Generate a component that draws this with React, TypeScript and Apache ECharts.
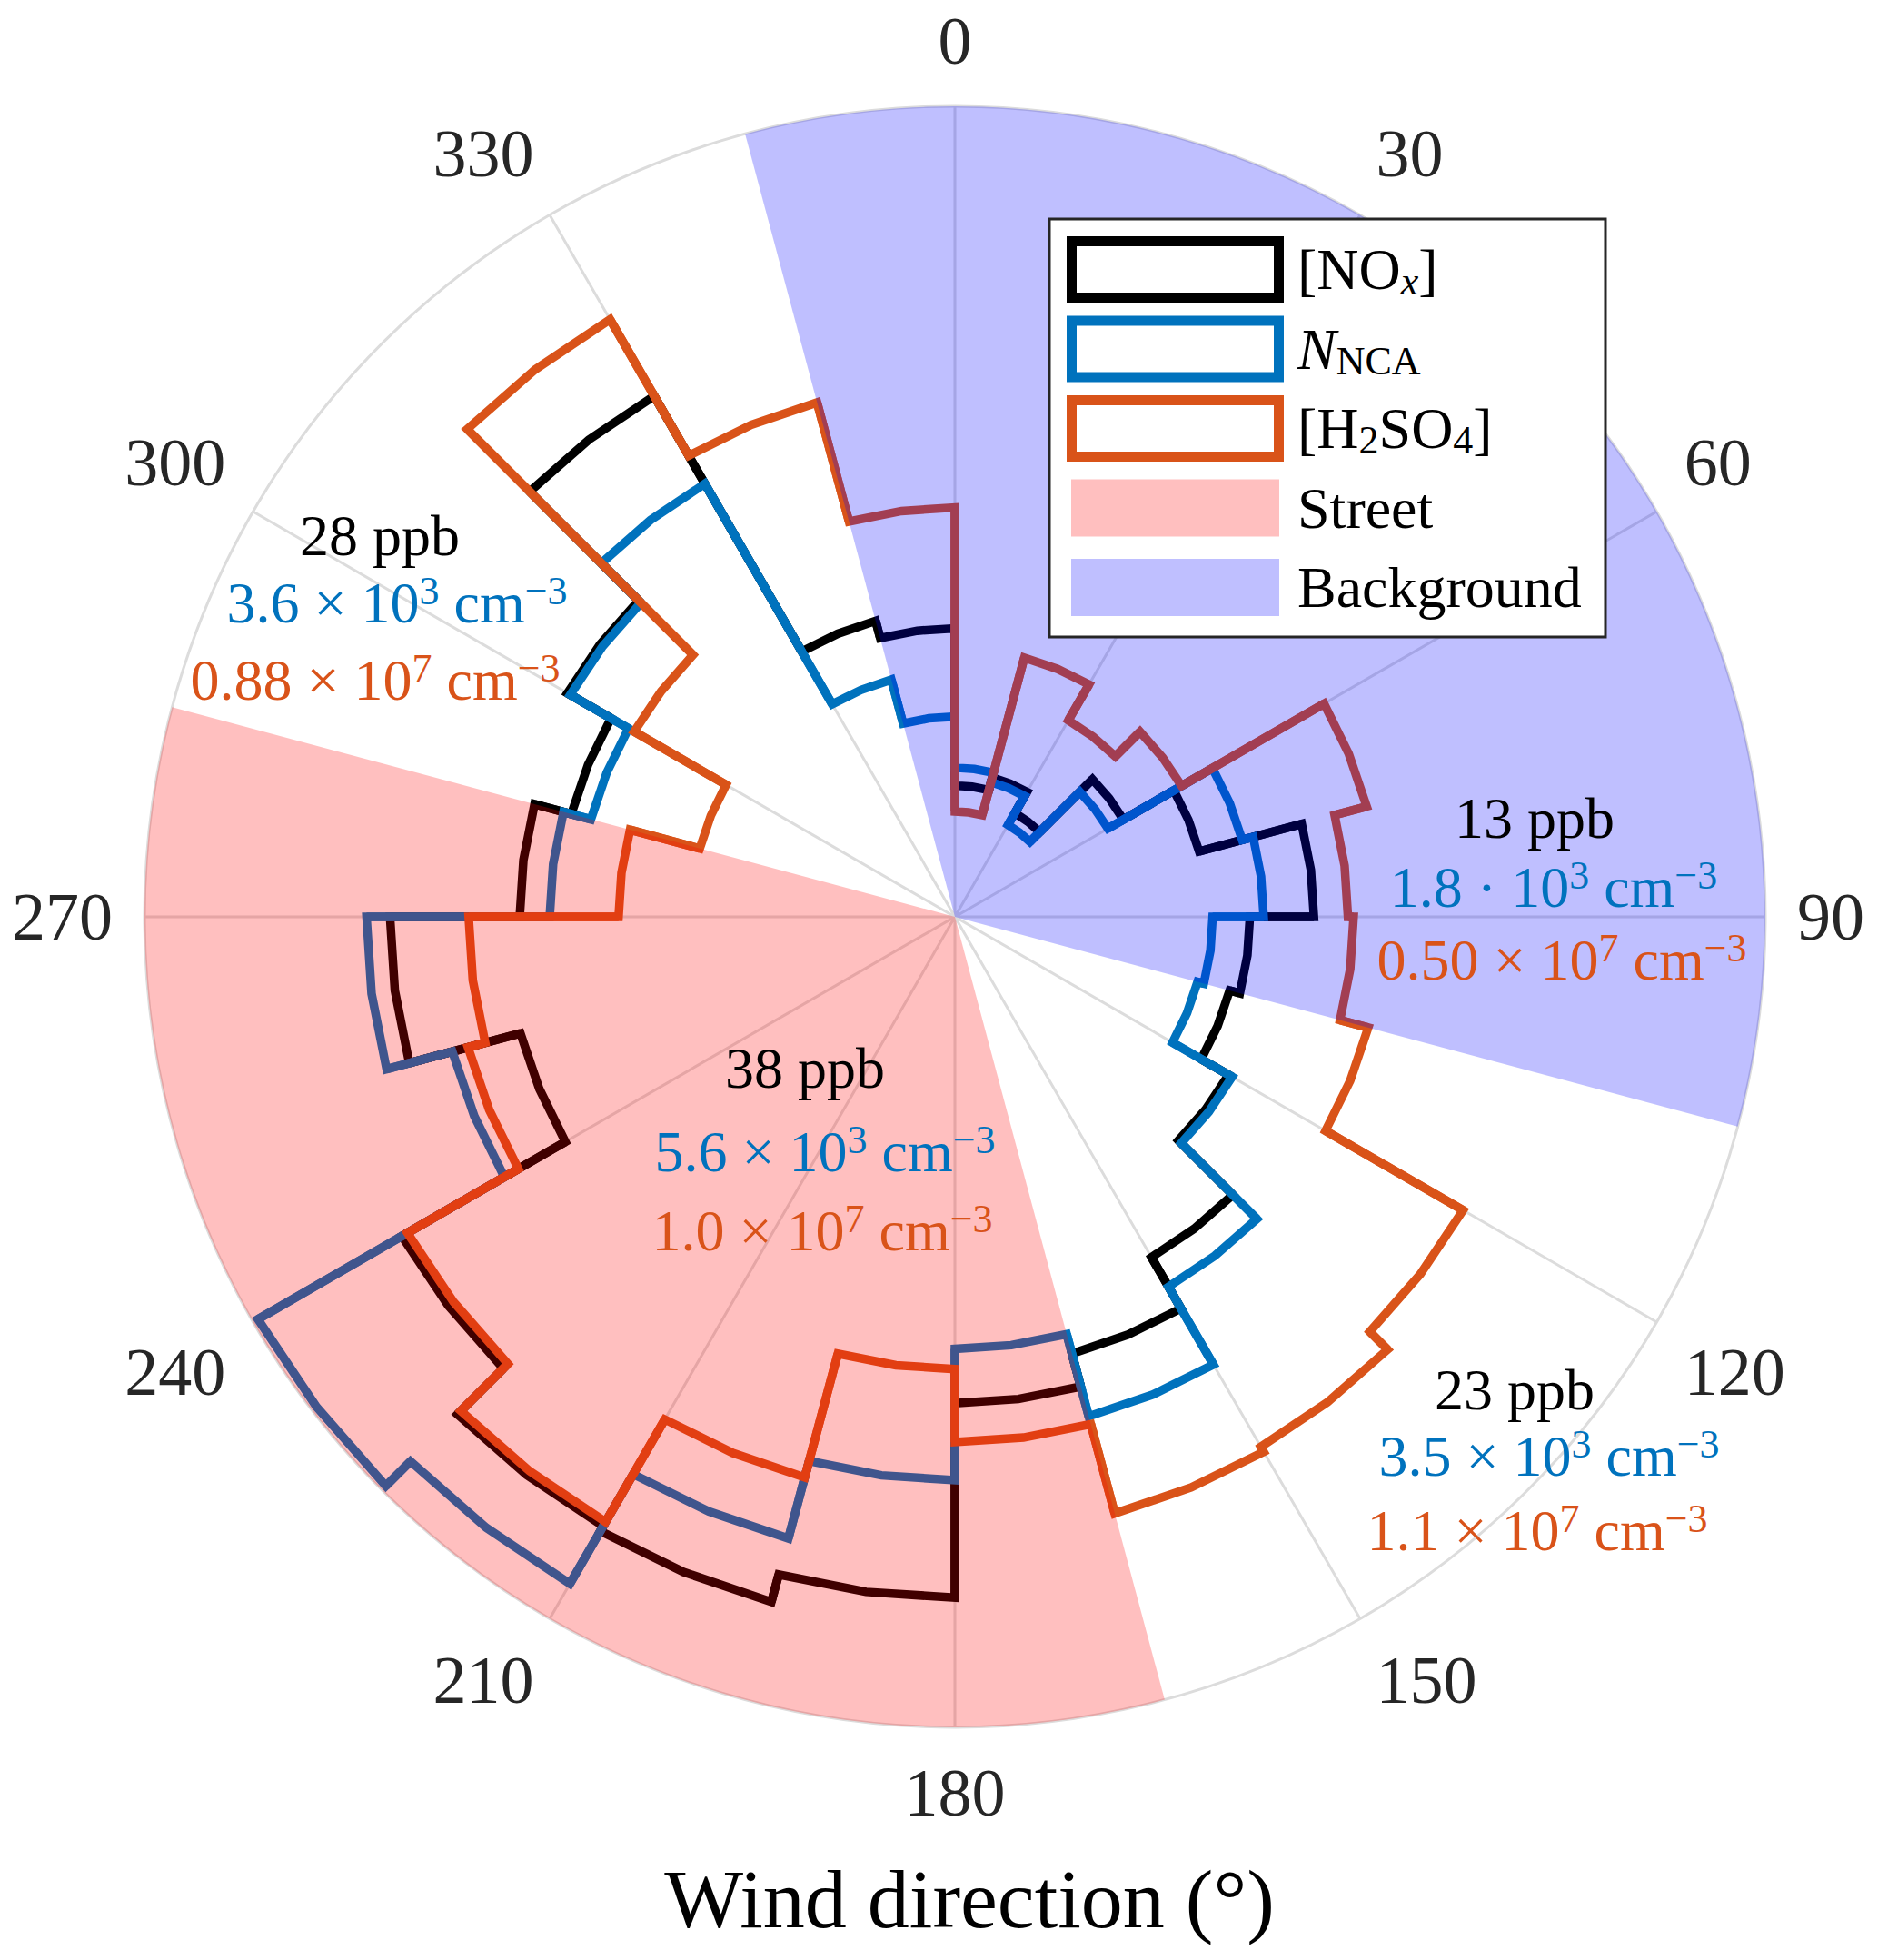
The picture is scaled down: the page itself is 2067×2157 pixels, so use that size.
import React, { useEffect, useRef } from 'react';
import * as echarts from 'echarts';

const FONT = '"Liberation Serif", "DejaVu Serif", serif';

// 15-degree wind-direction bins (start angle, degrees clockwise from north)
const binStarts = [0, 15, 30, 45, 60, 75, 90, 105, 120, 135, 150, 165, 180, 195, 210, 225, 240, 255, 270, 285, 300, 315, 330, 345];
const binWidth = 15;

// Normalised radial values (fraction of outer ring)
const noxValues = [0.162, 0.178, 0.148, 0.240, 0.312, 0.443, 0.364, 0.351, 0.390, 0.485, 0.558, 0.600, 0.840, 0.875, 0.868, 0.788, 0.555, 0.697, 0.537, 0.490, 0.552, 0.742, 0.378, 0.356];
const nncaValues = [0.184, 0.172, 0.131, 0.218, 0.367, 0.381, 0.318, 0.310, 0.395, 0.527, 0.638, 0.533, 0.695, 0.794, 0.950, 0.993, 0.642, 0.726, 0.500, 0.465, 0.548, 0.617, 0.303, 0.247];
const h2so4Values = [0.130, 0.331, 0.280, 0.323, 0.526, 0.485, 0.492, 0.528, 0.724, 0.755, 0.762, 0.648, 0.558, 0.716, 0.862, 0.780, 0.622, 0.600, 0.415, 0.326, 0.457, 0.851, 0.657, 0.505];

const angleTickInterval = 30;
const radiusMax = 1;

// Shaded sectors [start, end] in degrees
const streetSector = [165, 285];
const backgroundSector = [345, 465];

// Sector annotations (NOx, N_NCA, H2SO4)
const noteNox = ['28 ppb', '13 ppb', '38 ppb', '23 ppb'];
const noteNnca = ['3.6 × 10{sup|3} cm{sup|−3}', '1.8 · 10{sup|3} cm{sup|−3}', '5.6 × 10{sup|3} cm{sup|−3}', '3.5 × 10{sup|3} cm{sup|−3}'];
const noteH2so4 = ['0.88 × 10{sup|7} cm{sup|−3}', '0.50 × 10{sup|7} cm{sup|−3}', '1.0 × 10{sup|7} cm{sup|−3}', '1.1 × 10{sup|7} cm{sup|−3}'];

const legendLabels = ['[NO{subi|x}]', '{it|N}{sub|NCA}', '[H{sub|2}SO{sub|4}]', 'Street', 'Background'];
const xAxisTitle = 'Wind direction (°)';

const NOX_COLOR = '#000000';
const NNCA_COLOR = '#0072BD';
const H2SO4_COLOR = '#D95319';
const STREET_COLOR = 'rgba(255,0,0,0.25)';
const BACKGROUND_COLOR = 'rgba(0,0,255,0.25)';
const LINE_W = 9.5;

// layout
const CX = 1051;
const CY = 1009;
const R = 892;
const NOTE_FS = 64;
const NOTE_POS = [
  [[418, 589], [437, 663], [413, 748]],
  [[1689, 900], [1710, 976], [1719, 1056]],
  [[886, 1175], [908, 1267], [905, 1354]],
  [[1667, 1529], [1705, 1602], [1692, 1684]],
];

function makeRich(color: string, fs: number) {
  const small = Math.round(fs * 0.69);
  const supLH = Math.round(fs * 0.4);
  const subLH = Math.round(fs * 0.46);
  return {
    sup: { fill: color, fontSize: small, fontFamily: FONT, lineHeight: supLH, verticalAlign: 'top' },
    sub: { fill: color, fontSize: small, fontFamily: FONT, lineHeight: subLH, verticalAlign: 'bottom' },
    subi: { fill: color, fontSize: small, fontFamily: FONT, fontStyle: 'italic', lineHeight: subLH, verticalAlign: 'bottom' },
    it: { fill: color, fontSize: fs, fontFamily: FONT, fontStyle: 'italic', lineHeight: Math.round(fs * 1.1) },
  };
}

function textEl(text: string, x: number, y: number, color: string, fs: number, align = 'center') {
  return {
    type: 'text',
    x,
    y,
    z: 100,
    silent: true,
    style: {
      text,
      fill: color,
      fontSize: fs,
      fontFamily: FONT,
      lineHeight: Math.round(fs * 1.1),
      align,
      verticalAlign: 'middle',
      rich: makeRich(color, fs),
    },
  };
}

const makeStairRenderer = (values: number[], color: string) => (params: any, api: any) => {
  const n = values.length;
  const i = params.dataIndex;
  const a0 = api.value(0);
  const v = api.value(1);
  const a1 = a0 + binWidth;
  const vPrev = values[(i - 1 + n) % n];
  const vNext = values[(i + 1) % n];
  const pt = (r: number, a: number) => api.coord([r, a]).slice(0, 2);
  const points = [pt(vPrev, a0), pt(v, a0), pt(v, (a0 + a1) / 2), pt(v, a1), pt(vNext, a1)];
  return {
    type: 'polyline',
    shape: { points },
    style: { stroke: color, lineWidth: LINE_W, fill: 'none', lineJoin: 'miter', miterLimit: 10, lineCap: 'butt' },
  };
};

const makeSectorRenderer = (color: string) => (params: any, api: any) => {
  const a0 = api.value(0);
  const a1 = api.value(1);
  const points: number[][] = [api.coord([0, a0]).slice(0, 2)];
  for (let a = a0; a <= a1 + 1e-6; a += 1) points.push(api.coord([radiusMax, a]).slice(0, 2));
  return { type: 'polygon', shape: { points }, style: { fill: color, stroke: 'none' } };
};

function stairSeries(name: string, values: number[], color: string, z: number) {
  return {
    type: 'custom',
    name,
    coordinateSystem: 'polar',
    z,
    silent: true,
    encode: { angle: 0, radius: 1 },
    data: binStarts.map((a, i) => [a, values[i]]),
    renderItem: makeStairRenderer(values, color),
  };
}

function sectorSeries(name: string, range: number[], color: string) {
  return {
    type: 'custom',
    name,
    coordinateSystem: 'polar',
    z: 10,
    silent: true,
    encode: { angle: [0, 1] },
    data: [range],
    renderItem: makeSectorRenderer(color),
  };
}

function buildGraphic() {
  const els: any[] = [];
  // legend
  const LX = 1155, LY = 241, LW = 612, LH = 460;
  els.push({ type: 'rect', z: 90, silent: true, shape: { x: LX, y: LY, width: LW, height: LH }, style: { fill: '#ffffff', stroke: '#262626', lineWidth: 3 } });
  const rowY0 = 296.5, pitch = 87.5;
  const lineColors = [NOX_COLOR, NNCA_COLOR, H2SO4_COLOR];
  const patchColors = ['#FFBFBF', '#BFBFFF'];
  legendLabels.forEach((label, i) => {
    const cy = rowY0 + i * pitch;
    if (i < 3) {
      els.push({ type: 'rect', z: 95, silent: true, shape: { x: 1179.5, y: cy - 31, width: 228, height: 62 }, style: { fill: '#ffffff', stroke: lineColors[i], lineWidth: 11 } });
    } else {
      els.push({ type: 'rect', z: 95, silent: true, shape: { x: 1179, y: cy - 31.5, width: 229, height: 63 }, style: { fill: patchColors[i - 3], stroke: 'none' } });
    }
    els.push(textEl(label, 1428, cy, '#000000', 64, 'left'));
  });
  // sector notes
  NOTE_POS.forEach((pos, k) => {
    els.push(textEl(noteNox[k], pos[0][0], pos[0][1], '#000000', NOTE_FS));
    els.push(textEl(noteNnca[k], pos[1][0], pos[1][1], NNCA_COLOR, NOTE_FS));
    els.push(textEl(noteH2so4[k], pos[2][0], pos[2][1], H2SO4_COLOR, NOTE_FS));
  });
  // axis title
  els.push(textEl(xAxisTitle, 1067, 2090, '#000000', 92));
  return els;
}

export default function App() {
  const ref = useRef<HTMLDivElement>(null);
  useEffect(() => {
    if (!ref.current) return;
    const chart = echarts.init(ref.current, null, { renderer: 'svg' });
    const option: any = {
      animation: false,
      backgroundColor: '#ffffff',
      polar: { center: [CX, CY], radius: R },
      angleAxis: {
        type: 'value',
        min: 0,
        max: 360,
        interval: angleTickInterval,
        startAngle: 90,
        clockwise: true,
        axisLine: { show: true, lineStyle: { color: '#dcdcdc', width: 3 } },
        axisTick: { show: false },
        splitLine: { show: true, lineStyle: { color: '#dcdcdc', width: 3 } },
        axisLabel: {
          show: true,
          margin: 35,
          color: '#262626',
          fontSize: 74,
          fontFamily: FONT,
          formatter: (v: number) => (v >= 360 ? '' : String(v)),
        },
      },
      radiusAxis: { type: 'value', min: 0, max: radiusMax, show: false },
      series: [
        stairSeries('NOx', noxValues, NOX_COLOR, 2),
        stairSeries('NNCA', nncaValues, NNCA_COLOR, 3),
        stairSeries('H2SO4', h2so4Values, H2SO4_COLOR, 4),
        sectorSeries('Street', streetSector, STREET_COLOR),
        sectorSeries('Background', backgroundSector, BACKGROUND_COLOR),
      ],
      graphic: { elements: buildGraphic() },
    };
    chart.setOption(option);
    return () => chart.dispose();
  }, []);
  return (
    <div
      ref={ref}
      style={{ position: 'absolute', left: 0, top: 0, width: 2067, height: 2157, background: '#ffffff' }}
    />
  );
}
